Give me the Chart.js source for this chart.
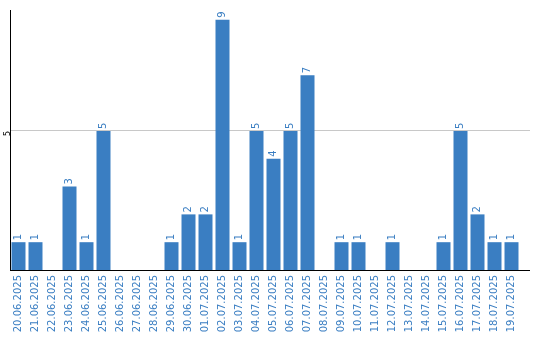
<!DOCTYPE html>
<html>
<head>
<meta charset="utf-8">
<script src="https://cdn.jsdelivr.net/npm/chart.js@4/dist/chart.umd.min.js"></script>
<style>
html,body{margin:0;padding:0;background:#fff;}
#wrap{width:540px;height:340px;position:relative;}
</style>
</head>
<body>
<div id="wrap"><canvas id="c" width="540" height="340"></canvas></div>
<script>
const categories = ["20.06.2025","21.06.2025","22.06.2025","23.06.2025","24.06.2025","25.06.2025","26.06.2025","27.06.2025","28.06.2025","29.06.2025","30.06.2025","01.07.2025","02.07.2025","03.07.2025","04.07.2025","05.07.2025","06.07.2025","07.07.2025","08.07.2025","09.07.2025","10.07.2025","11.07.2025","12.07.2025","13.07.2025","14.07.2025","15.07.2025","16.07.2025","17.07.2025","18.07.2025","19.07.2025"];
const values = [1,1,0,3,1,5,0,0,0,1,2,2,9,1,5,4,5,7,0,1,1,0,1,0,0,1,5,2,1,1];
const yTicks = [5];

const BLUE = '#3a7ec2';

const extras = {
  id: 'extras',
  afterDraw(chart) {
    const ctx = chart.ctx, a = chart.chartArea, y = chart.scales.y;
    const align = p => Math.round(p - 0.5) + 0.5;
    ctx.save();
    ctx.lineWidth = 1;
    yTicks.forEach(v => {
      const py = align(y.getPixelForValue(v));
      ctx.strokeStyle = '#c8c8c8';
      ctx.beginPath(); ctx.moveTo(a.right - 1, py); ctx.lineTo(530, py); ctx.stroke();
    });
    ctx.strokeStyle = '#000';
    const pb = align(a.bottom);
    ctx.beginPath(); ctx.moveTo(a.right - 1, pb); ctx.lineTo(530, pb); ctx.stroke();
    const meta = chart.getDatasetMeta(0);
    ctx.fillStyle = BLUE;
    ctx.font = '10px "DejaVu Sans"';
    ctx.textAlign = 'left';
    ctx.textBaseline = 'middle';
    meta.data.forEach((bar, i) => {
      const v = values[i];
      if (!v) return;
      ctx.save();
      ctx.translate(bar.x, bar.y - 2);
      ctx.rotate(-Math.PI / 2);
      ctx.fillText(String(v), 0, 0);
      ctx.restore();
    });
    ctx.restore();
  }
};

new Chart(document.getElementById('c'), {
  type: 'bar',
  data: {
    labels: categories,
    datasets: [{
      data: values,
      backgroundColor: BLUE,
      borderWidth: 0,
      categoryPercentage: 1,
      barPercentage: 14/17
    }]
  },
  options: {
    responsive: false,
    animation: false,
    layout: { padding: { top: 10, right: 20, left: 0, bottom: 0 } },
    plugins: { legend: { display: false }, tooltip: { enabled: false } },
    scales: {
      x: {
        grid: { display: false, drawTicks: false },
        border: { display: true, color: '#000', width: 1 },
        ticks: {
          color: BLUE,
          font: { family: 'DejaVu Sans', size: 10 },
          minRotation: 90, maxRotation: 90,
          autoSkip: false,
          padding: 5
        },
        afterFit: s => { s.height = 70; }
      },
      y: {
        min: 0, max: 9.35,
        afterBuildTicks: s => { s.ticks = yTicks.map(v => ({ value: v })); },
        grid: { color: '#c8c8c8', drawTicks: false },
        border: { display: true, color: '#000', width: 1 },
        ticks: {
          color: '#000',
          font: { family: 'DejaVu Sans', size: 8 },
          minRotation: 90, maxRotation: 90,
          padding: 2
        },
        afterFit: s => { s.width = 10; }
      }
    }
  },
  plugins: [extras]
});
</script>
</body>
</html>
